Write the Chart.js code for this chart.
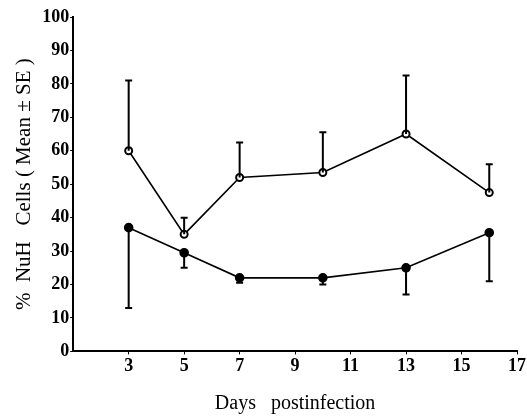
<!DOCTYPE html>
<html>
<head>
<meta charset="utf-8">
<script src="https://cdn.jsdelivr.net/npm/chart.js@4"></script>
<style>
  body { margin: 0; background: #fff; }
  #wrap { width: 527px; height: 420px; }
</style>
</head>
<body>
<div id="wrap"><canvas id="nuhChart"></canvas></div>
<script>
// days sampled
const days = [3, 5, 7, 10, 13, 16];
// upper curve (open circles) with SE drawn upward
const upperMean = [60, 35, 52, 53.5, 65, 47.5];
const upperSE = [21, 5, 10.5, 12, 17.5, 8.5];
// lower curve (filled circles) with SE drawn downward
const lowerMean = [37, 29.5, 22, 22, 25, 35.5];
const lowerSE = [24, 4.5, 1.5, 2, 8, 14.5];
// tick labels shown on the x axis
const xTicks = [3, 5, 7, 9, 11, 13, 15, 17];

const serif = '"Liberation Serif", "DejaVu Serif", serif';

// draws the one-sided error bars using the chart scales
const errorBars = {
    id: 'errorBars',
    afterDatasetsDraw(chart) {
        const ctx = chart.ctx;
        const yScale = chart.scales.y;
        chart.data.datasets.forEach((ds, i) => {
            const meta = chart.getDatasetMeta(i);
            meta.data.forEach((pt, j) => {
                const v = ds.data[j].y;
                const end = v + ds.errDir * ds.err[j];
                const y1 = yScale.getPixelForValue(end);
                ctx.save();
                ctx.strokeStyle = '#000';
                ctx.lineWidth = 2;
                ctx.beginPath();
                ctx.moveTo(pt.x, pt.y);
                ctx.lineTo(pt.x, y1);
                ctx.moveTo(pt.x - 3.5, y1);
                ctx.lineTo(pt.x + 3.5, y1);
                ctx.stroke();
                ctx.restore();
            });
        });
    }
};

const ctx = document.getElementById('nuhChart').getContext('2d');
const nuhChart = new Chart(ctx, {
    type: 'line',
    data: {
        datasets: [{
            label: 'upper',
            data: days.map((d, i) => ({ x: d, y: upperMean[i] })),
            err: upperSE,
            errDir: 1,
            borderColor: '#000',
            borderWidth: 1.6,
            pointRadius: 3.5,
            pointBorderWidth: 2,
            pointBackgroundColor: '#fff',
            pointBorderColor: '#000',
            tension: 0
        }, {
            label: 'lower',
            data: days.map((d, i) => ({ x: d, y: lowerMean[i] })),
            err: lowerSE,
            errDir: -1,
            borderColor: '#000',
            borderWidth: 1.6,
            pointRadius: 4,
            pointBackgroundColor: '#000',
            pointBorderColor: '#000',
            tension: 0
        }]
    },
    options: {
        responsive: true,
        maintainAspectRatio: false,
        animation: false,
        layout: { padding: { left: 12, right: 0, top: 17, bottom: 4 } },
        plugins: {
            legend: { display: false },
            tooltip: { enabled: false }
        },
        scales: {
            x: {
                type: 'linear',
                min: 1,
                max: 17,
                afterBuildTicks: (axis) => {
                    axis.ticks = xTicks.map(v => ({ value: v }));
                },
                ticks: {
                    color: '#000',
                    font: { family: serif, size: 18, weight: 'bold' },
                    padding: 1,
                    maxRotation: 0
                },
                grid: { drawOnChartArea: false, color: '#000', tickLength: 3 },
                border: { color: '#000', width: 2 },
                title: {
                    display: true,
                    text: 'Days   postinfection',
                    color: '#000',
                    font: { family: serif, size: 20 },
                    padding: { top: 14, bottom: 0 }
                }
            },
            y: {
                min: 0,
                max: 100,
                ticks: {
                    stepSize: 10,
                    color: '#000',
                    font: { family: serif, size: 18, weight: 'bold' },
                    padding: 1
                },
                grid: { drawOnChartArea: false, color: '#000', tickLength: 3 },
                border: { color: '#000', width: 2 },
                title: {
                    display: true,
                    text: '%  NuH   Cells ( Mean ± SE )',
                    color: '#000',
                    font: { family: serif, size: 21 },
                    padding: { top: 0, bottom: 4 }
                }
            }
        }
    },
    plugins: [errorBars]
});
</script>
</body>
</html>
